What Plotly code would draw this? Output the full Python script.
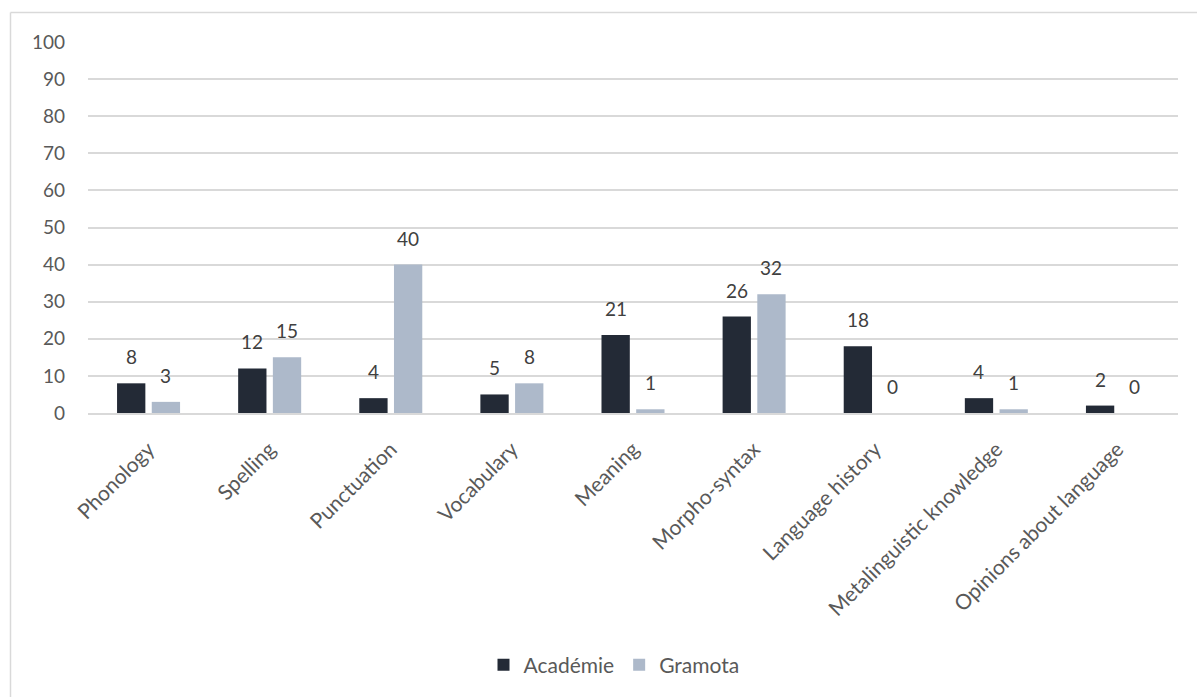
import plotly.graph_objects as go

categories = ["Phonology", "Spelling", "Punctuation", "Vocabulary", "Meaning",
              "Morpho-syntax", "Language history", "Metalinguistic knowledge",
              "Opinions about language"]
academie = [8, 12, 4, 5, 21, 26, 18, 4, 2]
gramota = [3, 15, 40, 8, 1, 32, 0, 1, 0]

FONT = "Lato, 'Open Sans', sans-serif"
TICK_COLOR = "#595959"
LABEL_COLOR = "#404040"

W, H = 1197, 697
L, R, T, B = 88, 19, 42, 284
pw, ph = W - L - R, H - T - B

BARGAP = 0.427
BARGROUPGAP = 0.184
cat_w = pw / len(categories)
slot = (1 - BARGAP) * cat_w / 2

fig = go.Figure()
fig.add_trace(go.Bar(
    x=categories, y=academie, name="Académie",
    marker=dict(color="#232a36", line=dict(width=0)),
))
fig.add_trace(go.Bar(
    x=categories, y=gramota, name="Gramota",
    marker=dict(color="#adb9ca", line=dict(width=0)),
))

annotations = []
for series, shift in ((academie, -slot / 2), (gramota, slot / 2)):
    for c, v in zip(categories, series):
        annotations.append(dict(
            x=c, y=v, xref="x", yref="y", text=str(v), showarrow=False,
            xshift=shift, yshift=13, yanchor="bottom",
            font=dict(size=19, color=LABEL_COLOR, family=FONT),
        ))


def px_x(p):
    return (p - L) / pw


def px_y(p):
    return (H - B - p) / ph


fig.update_layout(
    width=W, height=H,
    margin=dict(l=L, r=R, t=T, b=B),
    paper_bgcolor="white", plot_bgcolor="white",
    barmode="group", bargap=BARGAP, bargroupgap=BARGROUPGAP,
    font=dict(family=FONT, size=19, color=TICK_COLOR),
    showlegend=True,
    legend=dict(orientation="h", x=px_x(614), xanchor="center",
                y=px_y(665), yanchor="middle",
                font=dict(size=21, color=TICK_COLOR, family=FONT),
                traceorder="normal"),
    xaxis=dict(tickangle=-45, showline=True, linecolor="#d9d9d9", linewidth=1.5,
               tickfont=dict(size=21, color=TICK_COLOR), ticks="",
               showgrid=False, ticklabelstandoff=14),
    yaxis=dict(range=[0, 100], dtick=10, showgrid=True, gridcolor="#d9d9d9",
               gridwidth=1.5, zeroline=False, showline=False,
               tickfont=dict(size=19, color=TICK_COLOR), ticklabelstandoff=22),
    annotations=annotations,
    shapes=[
        dict(type="line", xref="paper", yref="paper",
             x0=px_x(10.5), x1=px_x(1205), y0=px_y(12.5), y1=px_y(12.5),
             line=dict(color="#d9d9d9", width=1.5)),
        dict(type="line", xref="paper", yref="paper",
             x0=px_x(10.5), x1=px_x(10.5), y0=px_y(12.5), y1=px_y(705),
             line=dict(color="#d9d9d9", width=1.5)),
    ],
)

fig.write_html("out.html")
